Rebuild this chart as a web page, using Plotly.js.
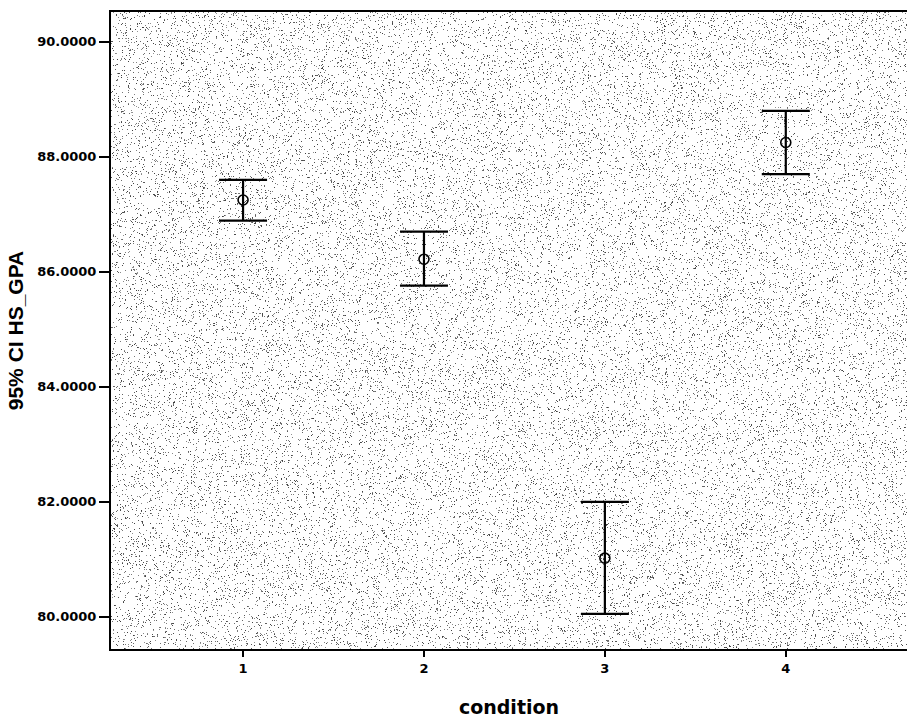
<!DOCTYPE html>
<html>
<head>
<meta charset="utf-8">
<script src="https://cdn.plot.ly/plotly-3.0.1.min.js"></script>
<style>html,body{margin:0;padding:0;background:#fff;}#chart{width:907px;height:719px;}</style>
</head>
<body>
<div id="chart"></div>
<script>
// Data
var conditions = [1, 2, 3, 4];
var means = [87.25, 86.22, 81.02, 88.25];
var ciUpper = [87.60, 86.70, 82.00, 88.80];
var ciLower = [86.89, 85.76, 80.05, 87.70];
var yTickVals = [80, 82, 84, 86, 88, 90];
var xTickLabels = ['1', '2', '3', '4'];

// Stippled background texture (decoration only)
function makeTexture(w, h) {
  var c = document.createElement('canvas');
  c.width = w; c.height = h;
  var ctx = c.getContext('2d');
  ctx.fillStyle = '#ffffff';
  ctx.fillRect(0, 0, w, h);
  var img = ctx.getImageData(0, 0, w, h);
  var a = 987654321;
  function rnd() {
    a |= 0; a = a + 0x6D2B79F5 | 0;
    var t = Math.imul(a ^ a >>> 15, 1 | a);
    t = t + Math.imul(t ^ t >>> 7, 61 | t) ^ t;
    return ((t ^ t >>> 14) >>> 0) / 4294967296;
  }
  for (var i = 0; i < w * h; i++) {
    if (rnd() < 0.075) {
      var v = 60 + Math.floor(rnd() * 90);
      img.data[i * 4] = v; img.data[i * 4 + 1] = v; img.data[i * 4 + 2] = v;
    }
  }
  ctx.putImageData(img, 0, 0);
  return c.toDataURL('image/png');
}

var errPlus = means.map(function (m, i) { return ciUpper[i] - m; });
var errMinus = means.map(function (m, i) { return m - ciLower[i]; });

var trace = {
  type: 'scatter',
  mode: 'markers',
  x: conditions,
  y: means,
  marker: { symbol: 'circle-open', size: 10, color: '#000', line: { width: 1.6, color: '#000' } },
  error_y: {
    type: 'data', symmetric: false,
    array: errPlus, arrayminus: errMinus,
    color: '#000', thickness: 2.2, width: 24
  },
  hoverinfo: 'x+y'
};

var fontFam = 'DejaVu Sans, Arial, sans-serif';
var titleFam = 'Liberation Sans, Arial, sans-serif';

var layout = {
  width: 907, height: 719,
  margin: { l: 111, r: 0, t: 12, b: 70 },
  paper_bgcolor: '#ffffff',
  plot_bgcolor: 'rgba(0,0,0,0)',
  showlegend: false,
  images: [{
    source: makeTexture(796, 637),
    xref: 'paper', yref: 'paper', x: 0, y: 1, sizex: 1, sizey: 1,
    sizing: 'stretch', xanchor: 'left', yanchor: 'top', layer: 'below'
  }],
  xaxis: {
    range: [0.27, 4.67],
    tickvals: conditions, ticktext: xTickLabels,
    ticks: 'outside', ticklen: 6, tickwidth: 1.5, tickcolor: '#000',
    showgrid: false, zeroline: false,
    showline: true, linewidth: 2, linecolor: '#000', mirror: true,
    tickfont: { family: fontFam, size: 13, color: '#000', weight: 'bold' },
    title: { text: '<b>condition</b>', font: { family: fontFam, size: 19, color: '#000' }, standoff: 26 }
  },
  yaxis: {
    range: [79.44, 90.52],
    tickvals: yTickVals, tickformat: '.4f',
    ticks: 'outside', ticklen: 10, tickwidth: 1.5, tickcolor: '#000',
    showgrid: false, zeroline: false,
    showline: true, linewidth: 2, linecolor: '#000',
    tickfont: { family: fontFam, size: 13, color: '#000', weight: 'bold' },
    title: { text: '<b>95% CI HS_GPA</b>', font: { family: titleFam, size: 21, color: '#000' }, standoff: 8 }
  }
};

Plotly.newPlot('chart', [trace], layout, { displayModeBar: false, staticPlot: true });
</script>
</body>
</html>
